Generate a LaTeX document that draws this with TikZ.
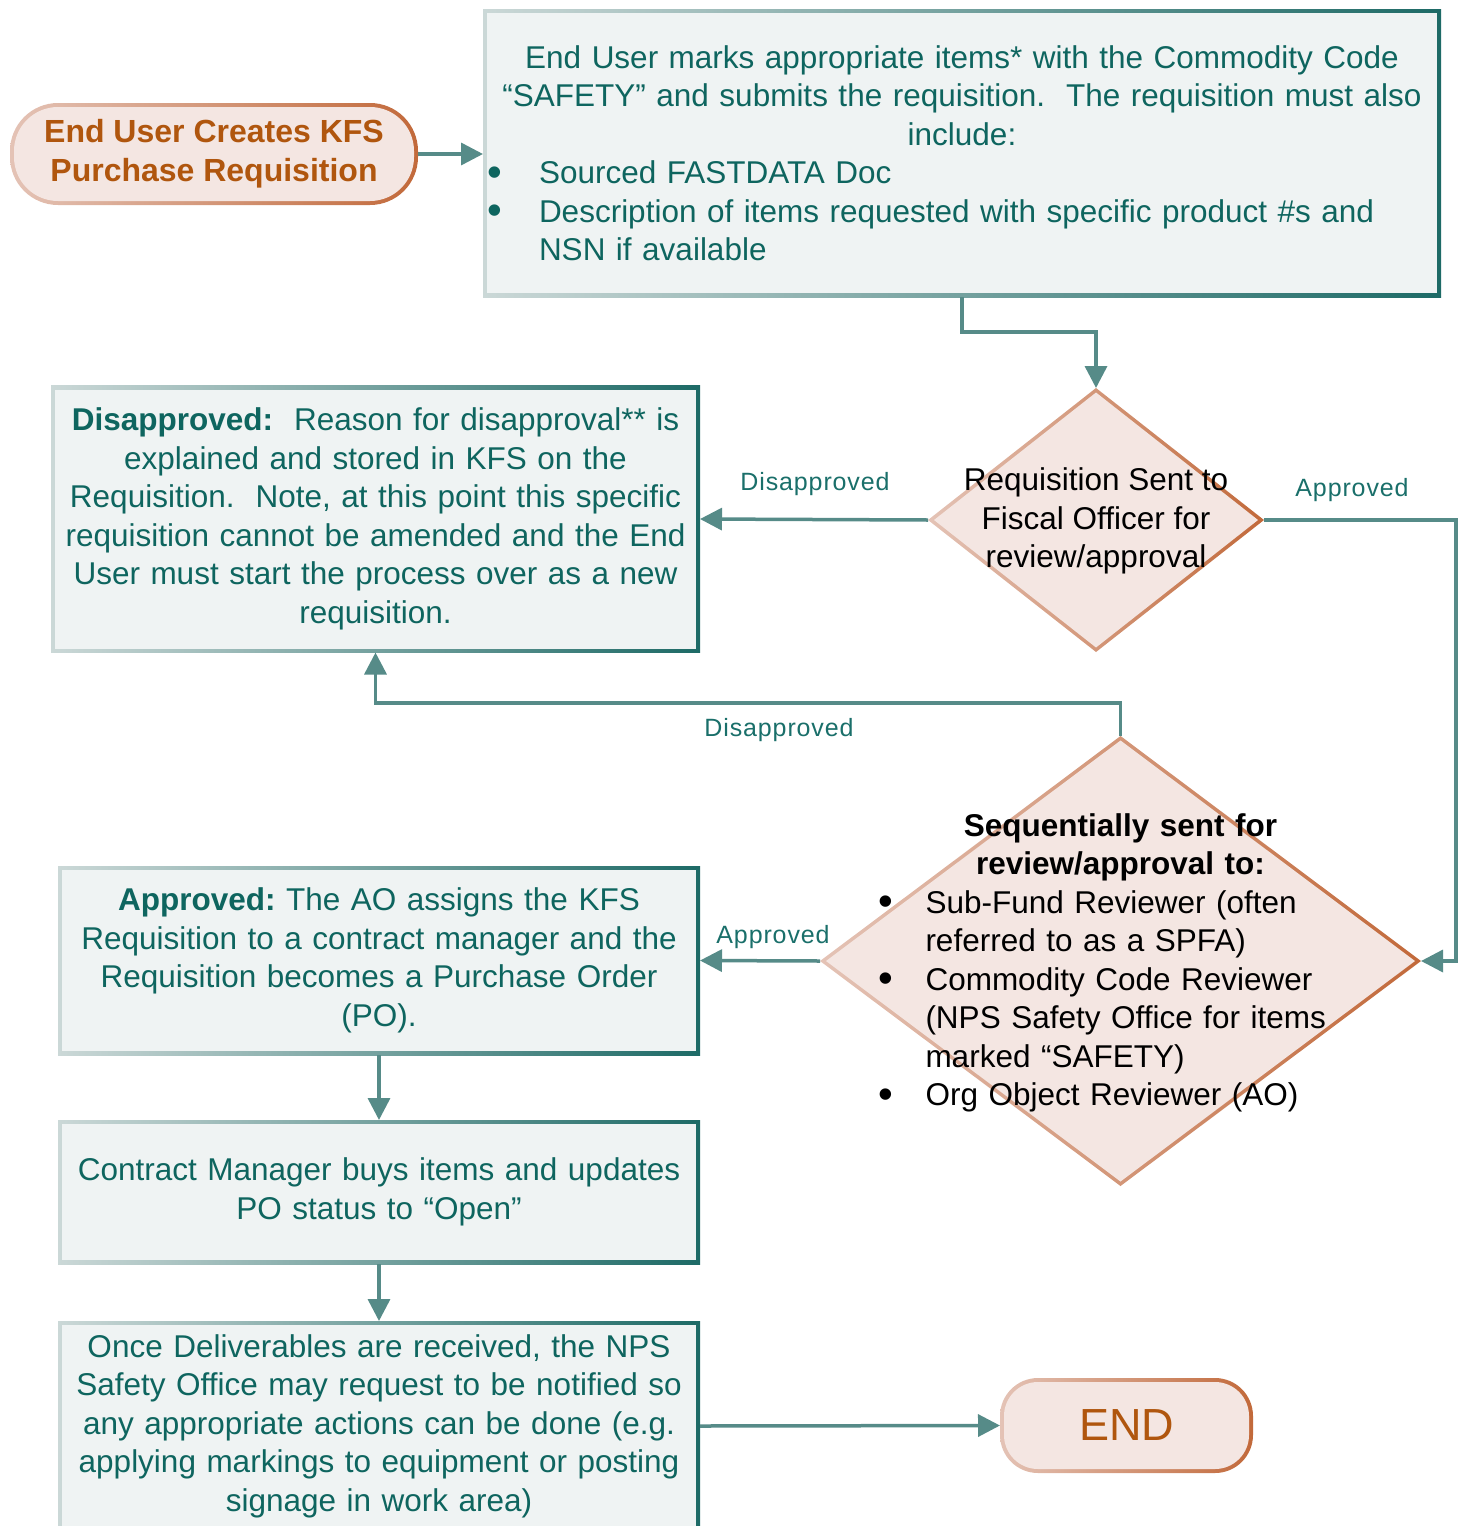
\documentclass[tikz,border=0pt]{standalone}
\usepackage{fontspec}
\setmainfont{Liberation Sans}
\usetikzlibrary{shapes.geometric,arrows.meta}
\definecolor{bxL}{HTML}{CBD8D7}
\definecolor{bxR}{HTML}{1D6A66}
\definecolor{bxF}{HTML}{EFF3F3}
\definecolor{tmL}{HTML}{E4C3B6}
\definecolor{tmR}{HTML}{C2693A}
\definecolor{tmF}{HTML}{F4E6E2}
\definecolor{txtc}{HTML}{0E655F}
\definecolor{orng}{HTML}{B0560E}
\definecolor{cnc}{HTML}{568B88}
\definecolor{lblc}{HTML}{1A6F6A}
\newcommand{\bul}[1]{\makebox[#1][l]{\raisebox{-2.5pt}{\fontsize{42}{42}\selectfont\textbullet}}}
\begin{document}
\begin{tikzpicture}[x=1pt,y=-1pt,
  bx/.style={rectangle, inner sep=0pt, outer sep=0pt, left color=bxL, right color=bxR,
    path picture={\fill[bxF] ([shift={(4pt,4pt)}]path picture bounding box.south west) rectangle ([shift={(-4pt,-4pt)}]path picture bounding box.north east);},
    text=txtc, font=\fontsize{31.5}{38.5}\selectfont, align=center},
  term/.style 2 args={rectangle, inner sep=0pt, outer sep=0pt, rounded corners=#1, left color=tmL, right color=tmR,
    path picture={\fill[tmF, rounded corners=#2] ([shift={(4pt,4pt)}]path picture bounding box.south west) rectangle ([shift={(-4pt,-4pt)}]path picture bounding box.north east);},
    text=orng},
  dmd/.style 2 args={diamond, inner sep=0pt, outer sep=0pt, left color=tmL, right color=tmR,
    path picture={\fill[tmF] ([xshift=#1]path picture bounding box.west) -- ([yshift=-#2]path picture bounding box.north) -- ([xshift=-#1]path picture bounding box.east) -- ([yshift=#2]path picture bounding box.south) -- cycle;}},
  dtxt/.style={font=\fontsize{31.5}{38.5}\selectfont, align=center, text=black, inner sep=0pt},
  conn/.style={draw=cnc, line width=3.5pt, -{Triangle[length=22pt,width=22pt]}},
  lbl/.style={text=lblc, font=\fontsize{25}{30}\selectfont\addfontfeature{LetterSpace=3.5}, inner sep=0pt}
]
\useasboundingbox (0,0) rectangle (1465,1526);

% nodes
\node[term={48pt}{44pt}, minimum width=408pt, minimum height=102pt, font=\bfseries\fontsize{32}{39}\selectfont, align=center] (start) at (214,154) {End User Creates KFS\\Purchase Requisition};

\node[bx, minimum width=958pt, minimum height=288pt, text width=950pt, align=left] (box1) at (962,153)
{{\centering End User marks appropriate items* with the Commodity Code\\
“SAFETY” and submits the requisition.\ \ The requisition must also\\
include:\par}
\bul{52pt}Sourced FASTDATA Doc\\
\bul{52pt}Description of items requested with specific product \#s and\\
\hspace*{52pt}NSN if available};

\node[dmd={6pt}{4.5pt}, minimum width=336pt, minimum height=264pt] (d1) at (1096,520) {};
\node[dtxt] (d1t) at ([yshift=-1pt]d1.center) {Requisition Sent to\\Fiscal Officer for\\review/approval};

\node[bx, minimum width=649pt, minimum height=267pt, text width=640pt] (box2) at (375.5,519)
{\textbf{Disapproved:}\ \ Reason for disapproval** is\\
explained and stored in KFS on the\\
Requisition.\ \ Note, at this point this specific\\
requisition cannot be amended and the End\\
User must start the process over as a new\\
requisition.};

\node[dmd={6pt}{4.5pt}, minimum width=601pt, minimum height=450pt] (d2) at (1120.5,961) {};
\node[dtxt, text width=484pt, align=left] (d2t) at ([yshift=-2pt]d2.center)
{{\centering\bfseries Sequentially sent for\\ review/approval to:\par}
\bul{47pt}Sub-Fund Reviewer (often\\
\hspace*{47pt}referred to as a SPFA)\\
\bul{47pt}Commodity Code Reviewer\\
\hspace*{47pt}(NPS Safety Office for items\\
\hspace*{47pt}marked “SAFETY)\\
\bul{47pt}Org Object Reviewer (AO)};

\node[bx, minimum width=642pt, minimum height=189pt, text width=634pt] (box3) at (379,960.5)
{\textbf{Approved:}\ The AO assigns the KFS\\
Requisition to a contract manager and the\\
Requisition becomes a Purchase Order\\
(PO).};

\node[bx, minimum width=642pt, minimum height=144pt, text width=634pt] (box4) at (379,1192)
{Contract Manager buys items and updates\\ PO status to “Open”};

\node[bx, minimum width=642pt, minimum height=210pt, text width=634pt] (box5) at (379,1426)
{Once Deliverables are received, the NPS\\
Safety Office may request to be notified so\\
any appropriate actions can be done (e.g.\\
applying markings to equipment or posting\\
signage in work area)};

\node[term={38pt}{34pt}, minimum width=253pt, minimum height=95pt, font=\fontsize{45}{50}\selectfont] (end) at (1126.5,1425.5) {END};

% connectors
\draw[conn] (start.east) -- (box1.west |- start.east);
\draw[conn] (box1.south) -- ++(0,35) -| (d1.north);
\draw[conn] (d1.west) -- (box2.east);
\draw[conn] (d1.east) -- ++(192,0) |- (d2.east);
\draw[conn] (d2.north) -- ++(0,-33) -| (box2.south);
\draw[conn] (d2.west) -- (box3.east);
\draw[conn] (box3.south) -- (box4.north);
\draw[conn] (box4.south) -- (box5.north);
\draw[conn] (box5.east) -- (end.west);

% labels
\node[lbl] (l1) at (815,484) {Disapproved};
\node[lbl] (l2) at (1352,490) {Approved};
\node[lbl] (l3) at (779,730) {Disapproved};
\node[lbl] (l4) at (773,937) {Approved};
\end{tikzpicture}
\end{document}
